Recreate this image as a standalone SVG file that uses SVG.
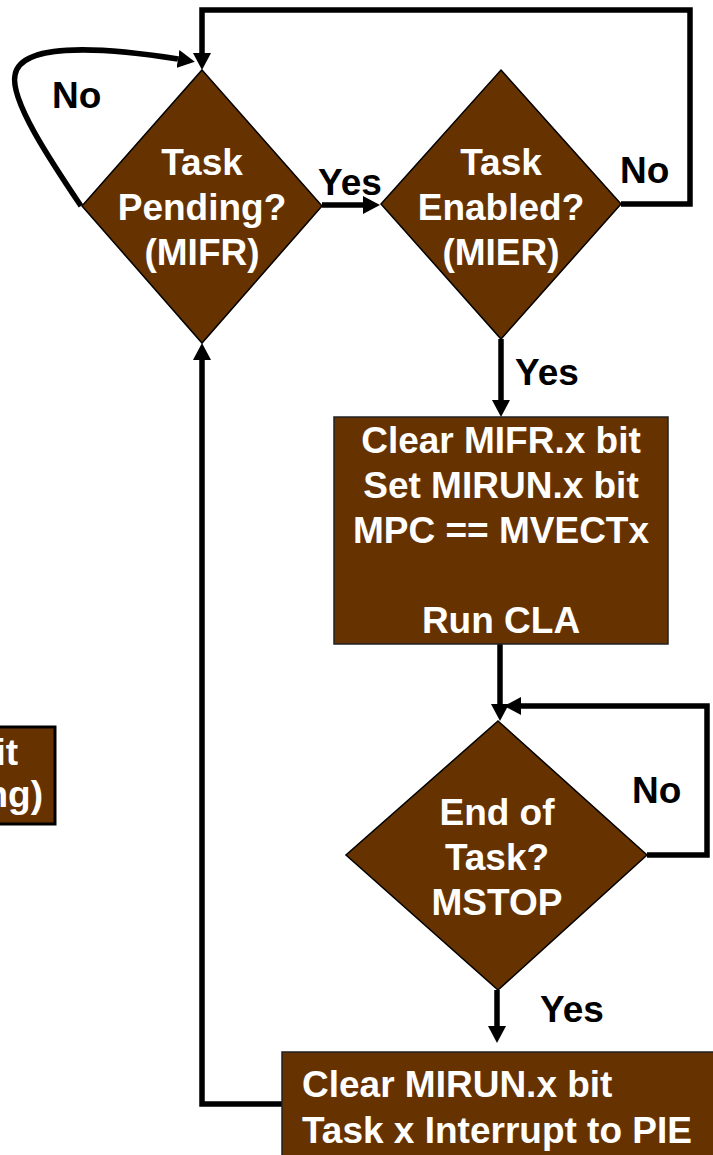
<svg xmlns="http://www.w3.org/2000/svg" width="713" height="1155" viewBox="0 0 713 1155">
  <style>
    .shape { fill: #663300; stroke: #000; stroke-width: 1.5; }
    .box { fill: #663300; stroke: #222; stroke-width: 1.5; }
    .t { font-family: "Liberation Sans", Arial, sans-serif; font-weight: bold; font-size: 37px; }
    .in { fill: #fff; text-anchor: middle; }
    .lbl { fill: #000; }
    .wire { fill: none; stroke: #000; stroke-width: 5.5; stroke-linejoin: miter; marker-end: url(#ah); }
  </style>
  <defs>
    <marker id="ah" markerUnits="userSpaceOnUse" viewBox="0 0 18 18" markerWidth="18" markerHeight="18" refX="0" refY="9" orient="auto">
      <path d="M0,0 L17,9 L0,18 Z" fill="#000"/>
    </marker>
  </defs>

  <rect width="713" height="1155" fill="#fff"/>

  <!-- connectors -->
  <g id="connectors">
    <!-- Task Enabled? No: back to top of Task Pending? -->
    <path class="wire" d="M621,204 H690 V10 H202 V53"/>
    <!-- Task Pending? No: self loop -->
    <path class="wire" d="M81,206 C50,160 10,100 15,75 C20,45 90,45 178,59"/>
    <!-- Task Pending? Yes -->
    <path class="wire" d="M322,205 H363"/>
    <!-- Task Enabled? Yes -->
    <path class="wire" d="M501,339 V400"/>
    <!-- Run CLA to End of Task? -->
    <path class="wire" d="M500,644 V704"/>
    <!-- End of Task? No: loop -->
    <path class="wire" d="M647,855 H707 V706 H521"/>
    <!-- End of Task? Yes -->
    <path class="wire" d="M497,990 V1026"/>
    <!-- back to Task Pending? -->
    <path class="wire" d="M282,1104 H202 V360"/>

    <text class="t lbl" x="52" y="108">No</text>
    <text class="t lbl" x="318" y="195">Yes</text>
    <text class="t lbl" x="620" y="183">No</text>
    <text class="t lbl" x="515" y="385">Yes</text>
    <text class="t lbl" x="632" y="803">No</text>
    <text class="t lbl" x="540" y="1022">Yes</text>
  </g>

  <!-- decision: Task Pending? -->
  <g id="task-pending">
    <polygon class="shape" points="202,70 322,206 202,343 82,206"/>
    <text class="t in" x="202" y="175">Task</text>
    <text class="t in" x="202" y="220">Pending?</text>
    <text class="t in" x="202" y="265">(MIFR)</text>
  </g>

  <!-- decision: Task Enabled? -->
  <g id="task-enabled">
    <polygon class="shape" points="501,70 621,204 501,339 381,204"/>
    <text class="t in" x="501" y="175">Task</text>
    <text class="t in" x="501" y="220">Enabled?</text>
    <text class="t in" x="501" y="265">(MIER)</text>
  </g>

  <!-- process: start task -->
  <g id="run-cla">
    <rect class="box" x="334" y="417" width="334" height="227"/>
    <text class="t in" x="501" y="453">Clear MIFR.x bit</text>
    <text class="t in" x="501" y="498">Set MIRUN.x bit</text>
    <text class="t in" x="501" y="543">MPC == MVECTx</text>
    <text class="t in" x="501" y="633">Run CLA</text>
  </g>

  <!-- decision: End of Task? -->
  <g id="end-of-task">
    <polygon class="shape" points="498,721 647,855 498,990 346,855"/>
    <text class="t in" x="497" y="825">End of</text>
    <text class="t in" x="497" y="870">Task?</text>
    <text class="t in" x="497" y="915">MSTOP</text>
  </g>

  <!-- process: finish task -->
  <g id="finish-task">
    <rect class="box" x="282" y="1052" width="450" height="120"/>
    <text class="t" fill="#fff" x="302" y="1097">Clear MIRUN.x bit</text>
    <text class="t" fill="#fff" x="302" y="1143">Task x Interrupt to PIE</text>
  </g>

  <!-- side box at left edge -->
  <g id="side-box">
    <rect x="-10" y="727" width="65" height="97" fill="#663300" stroke="#000" stroke-width="3"/>
    <text class="t" fill="#fff" text-anchor="end" x="18" y="765">it</text>
    <text class="t" fill="#fff" text-anchor="end" x="43" y="807">ng)</text>
  </g>
</svg>
